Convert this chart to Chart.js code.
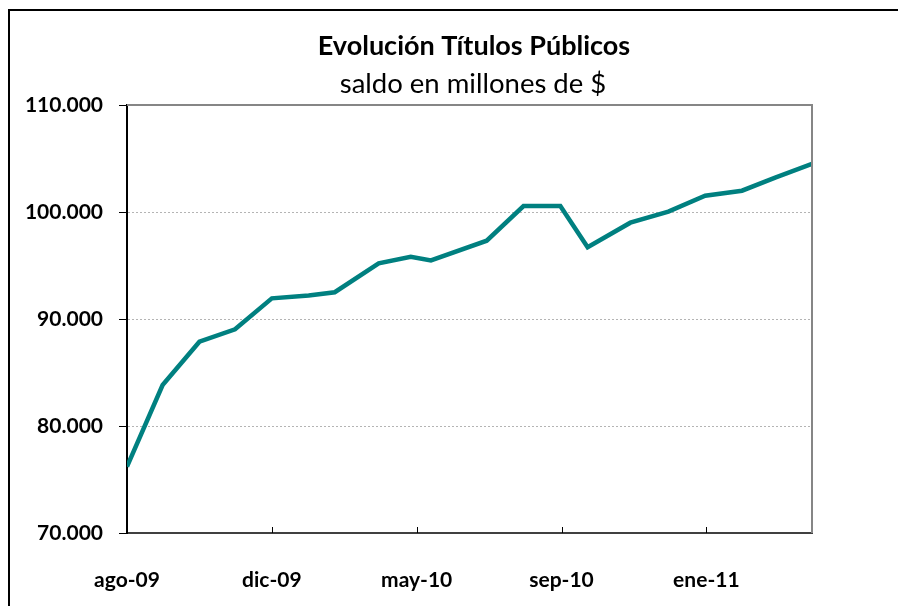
<!DOCTYPE html>
<html>
<head>
<meta charset="utf-8">
<script src="https://cdn.jsdelivr.net/npm/chart.js@4.4.1/dist/chart.umd.min.js"></script>
<style>
  html, body { margin: 0; padding: 0; background: #fff; }
  #wrap { position: relative; width: 898px; height: 606px; }
</style>
</head>
<body>
<div id="wrap"><canvas id="titulosChart" width="898" height="606"></canvas></div>
<script>
const titleText = 'Evolución Títulos Públicos'
const subtitleText = 'saldo en millones de $'

// fechas de cada dato (saldo en millones de $)
const dates = ['2009-08-31', '2009-09-30', '2009-10-31', '2009-11-30', '2009-12-31', '2010-01-31', '2010-02-22',
    '2010-03-31', '2010-04-27', '2010-05-14', '2010-06-30', '2010-07-31', '2010-08-31', '2010-09-23',
    '2010-10-29', '2010-11-30', '2010-12-31', '2011-01-31', '2011-02-28', '2011-03-31']
const saldo = [76200, 83830, 87880, 89040, 91930, 92200, 92500, 95210, 95820, 95470, 97320, 100560,
    100560, 96700, 99000, 100030, 101520, 101990, 103220, 104490]

const tickLabels = ['ago-09', 'dic-09', 'may-10', 'sep-10', 'ene-11']
const tickStepDays = 122
const lineColor = '#008080'

const dayMs = 86400000
const start = Date.parse(dates[0])
const days = dates.map(d => Math.round((Date.parse(d) - start) / dayMs))
const points = days.map((d, i) => ({ x: d, y: saldo[i] }))

function fmt(v) {
    return String(v).replace(/\B(?=(\d{3})+(?!\d))/g, '.');
}

const FONT = 'Lato, "Liberation Sans", Arial, sans-serif'

// marco exterior, titulos, borde del area y marcas del eje x
const decorations = {
    id: 'decorations',
    beforeDraw(chart) {
        const ctx = chart.ctx;
        ctx.save();
        ctx.fillStyle = '#fff';
        ctx.fillRect(0, 0, chart.width, chart.height);
        ctx.strokeStyle = '#000';
        ctx.lineWidth = 2;
        ctx.beginPath();
        ctx.moveTo(9, chart.height);
        ctx.lineTo(9, 10);
        ctx.lineTo(chart.width, 10);
        ctx.stroke();

        ctx.fillStyle = '#000';
        ctx.textAlign = 'center';
        ctx.textBaseline = 'alphabetic';
        ctx.font = 'bold 27px ' + FONT;
        ctx.fillText(titleText, 474, 55);
        ctx.font = '27.5px ' + FONT;
        ctx.fillText(subtitleText, 473, 93);
        ctx.restore();
    },
    afterDatasetsDraw(chart) {
        const { ctx, chartArea } = chart;
        const x = chart.scales.x;
        ctx.save();
        ctx.strokeStyle = '#868686';
        ctx.lineWidth = 2;
        ctx.beginPath();
        ctx.moveTo(chartArea.left, chartArea.top);
        ctx.lineTo(chartArea.right, chartArea.top);
        ctx.lineTo(chartArea.right, chartArea.bottom);
        ctx.stroke();

        ctx.strokeStyle = '#000';
        ctx.lineWidth = 1;
        x.ticks.forEach(t => {
            const px = Math.round(x.getPixelForValue(t.value)) + 0.5;
            ctx.beginPath();
            ctx.moveTo(px, chartArea.bottom);
            ctx.lineTo(px, chartArea.bottom - 6);
            ctx.stroke();
        });
        ctx.restore();
    }
}

const ctx = document.getElementById('titulosChart').getContext('2d');

const chartData = {
    type: 'line',
    data: {
        datasets: [{
            label: 'Títulos Públicos',
            data: points,
            borderColor: lineColor,
            borderWidth: 4.5,
            pointRadius: 0,
            tension: 0,
            fill: false
        }]
    },
    options: {
        responsive: false,
        animation: false,
        layout: {
            padding: { top: 105, left: 10, right: 86, bottom: 10 }
        },
        plugins: {
            legend: { display: false },
            tooltip: { enabled: false },
            title: { display: false }
        },
        scales: {
            x: {
                type: 'linear',
                min: 0,
                max: days[days.length - 1],
                afterFit: scale => { scale.height = 63; },
                afterBuildTicks: scale => {
                    scale.ticks = tickLabels.map((l, i) => ({ value: i * tickStepDays }));
                },
                grid: { display: false },
                border: { display: true, color: '#404040', width: 2 },
                ticks: {
                    padding: 27,
                    color: '#000',
                    font: { family: FONT, size: 21, weight: 'bold' },
                    maxRotation: 0,
                    autoSkip: false,
                    callback: (value, index) => tickLabels[index]
                }
            },
            y: {
                min: 70000,
                max: 110000,
                afterFit: scale => { scale.width = 117; },
                grid: {
                    color: c => (c.tick && c.tick.value > 70000 && c.tick.value < 110000) ? '#b4b4b4' : 'rgba(0,0,0,0)',
                    lineWidth: 1,
                    tickColor: '#000',
                    tickLength: 8,
                    tickWidth: 1,
                    tickBorderDash: []
                },
                border: { display: true, color: '#000', width: 2, dash: [2, 2] },
                ticks: {
                    stepSize: 10000,
                    padding: 16,
                    color: '#000',
                    font: { family: FONT, size: 21, weight: 'bold' },
                    callback: v => fmt(v)
                }
            }
        }
    },
    plugins: [decorations]
}

const titulosChart = new Chart(ctx, chartData);
</script>
</body>
</html>
